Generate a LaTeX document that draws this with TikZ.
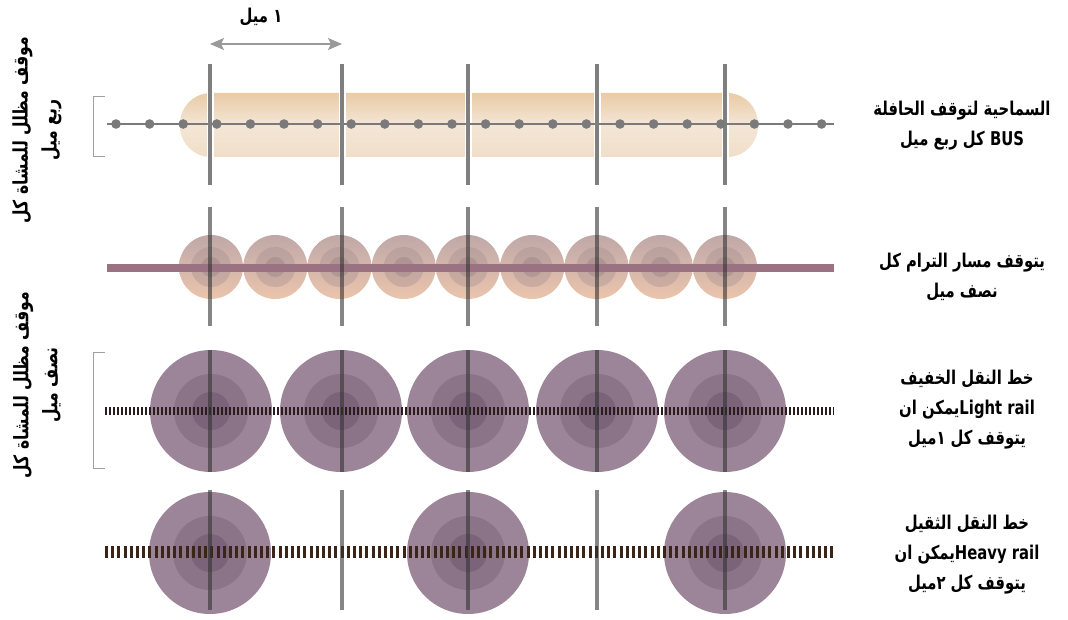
\documentclass[tikz,border=0pt]{standalone}
\usepackage{fontspec}
\newfontfamily\arfont[Script=Arabic,FakeStretch=0.78]{DejaVu Sans}
\TeXXeTstate=1
\usetikzlibrary{arrows.meta}
\definecolor{vline}{HTML}{7F7F7F}
\definecolor{vdark}{HTML}{333333}
\definecolor{dotc}{HTML}{7A7A7A}
\definecolor{tramc}{HTML}{9A7282}
\definecolor{lrc}{HTML}{2B1D1D}
\definecolor{hrc}{HTML}{3B2418}
\definecolor{purout}{HTML}{9C8598}
\definecolor{purmid}{HTML}{8B7488}
\definecolor{purin}{HTML}{7B6479}
\definecolor{tramtop}{HTML}{BFA8A8}
\definecolor{trambot}{HTML}{EBC5AC}
\definecolor{trammid}{HTML}{A08A8E}
\definecolor{tramin}{HTML}{8F7880}
\definecolor{pilltop}{HTML}{E9CBA6}
\definecolor{pillmid}{HTML}{F4E6D6}
\definecolor{pillbot}{HTML}{F0DEC8}
\definecolor{brk}{HTML}{A0A0A0}
\definecolor{arrc}{HTML}{9A9A9A}
\tikzset{
  milestone/.style={draw=vline, line width=4pt},
  milestoneover/.style={draw=vdark, draw opacity=0.6, line width=4pt},
  bracketline/.style={draw=brk, line width=0.8pt},
  rlabel/.style={font=\arfont\bfseries\fontsize{19}{30}\selectfont, align=center, text=black},
  llabel/.style={font=\arfont\bfseries\fontsize{20}{29}\selectfont, align=center, text=black, rotate=90},
}
\begin{document}
\begin{tikzpicture}[x=1pt,y=-1pt]
\useasboundingbox (0,0) rectangle (1068,620);

% ---- mile arrow ----
\coordinate (m0) at (210,44);
\coordinate (m1) at (342,44);
\draw[arrc, line width=1.6pt, {Stealth[length=14pt,width=12pt,inset=3pt]}-{Stealth[length=14pt,width=12pt,inset=3pt]}] (m0) -- (m1);
\node[font=\arfont\bfseries\fontsize{19}{20}\selectfont] (mile) at (261,17) {\beginR ١ ميل\endR};

% ---- row 1 : bus ----
\shade[top color=pilltop, bottom color=pillbot, middle color=pillmid, rounded corners=31pt] (180,93) rectangle (758,157);
\foreach \x in {210,342,468,597,725} {
  \draw[white, line width=7pt] (\x,93) -- (\x,157);
}
\coordinate (b0) at (107,124);
\coordinate (b1) at (834,124);
\draw[dotc, line width=2.5pt] (b0) -- (b1);
\foreach \x in {210,342,468,597,725} {
  \draw[milestone] (\x,64) -- (\x,185);
}
\foreach \i in {0,...,21} {
  \fill[dotc] ({116+33.6*\i},124) circle (4.8);
}
\draw[bracketline] (105,96) -- (93,96) -- (93,156) -- (105,156);

% ---- row 2 : tram ----
\foreach \i in {0,...,8} {
  \pgfmathsetmacro{\cx}{211+64.25*\i}
  \shade[top color=tramtop, bottom color=trambot] (\cx,267) circle (32);
  \fill[trammid, fill opacity=0.35] (\cx,267) circle (20);
  \fill[tramin, fill opacity=0.35] (\cx,267) circle (10);
}
\coordinate (t0) at (107,268);
\coordinate (t1) at (834,268);
\draw[tramc, line width=8pt] (t0) -- (t1);
\foreach \x in {210,342,468,597,725} {
  \draw[milestoneover] (\x,207) -- (\x,326);
}

% ---- row 3 : light rail ----
\foreach \x in {211,341,468,597,725} {
  \fill[purout] (\x,411) circle (61);
  \fill[purmid] (\x,411) circle (37);
  \fill[purin] (\x,411) circle (19);
}
\coordinate (l0) at (105,411);
\coordinate (l1) at (834,411);
\draw[lrc, line width=8pt, dash pattern=on 2pt off 2pt] (l0) -- (l1);
\foreach \x in {210,342,468,597,725} {
  \draw[milestoneover] (\x,350) -- (\x,472);
}
\draw[bracketline] (105,352) -- (93,352) -- (93,468) -- (105,468);

% ---- row 4 : heavy rail ----
\foreach \x in {210,468,725} {
  \fill[purout] (\x,553) circle (61);
  \fill[purmid] (\x,553) circle (37);
  \fill[purin] (\x,553) circle (19);
}
\coordinate (h0) at (105,552);
\coordinate (h1) at (834,552);
\draw[hrc, line width=12pt, dash pattern=on 3pt off 3.2pt] (h0) -- (h1);
\foreach \x in {210,342,468,597,725} {
  \draw[milestoneover] (\x,490) -- (\x,610);
}

% ---- right labels ----
\node[rlabel] (lab1) at (962,126) {\beginR السماحية لتوقف الحافلة\endR\\\beginR\beginL BUS\endL{} كل ربع ميل\endR};
\node[rlabel] (lab2) at (962,277) {\beginR يتوقف مسار الترام كل\endR\\\beginR نصف ميل\endR};
\node[rlabel] (lab3) at (967,410) {\beginR خط النقل الخفيف\endR\\\beginR\beginL Light rail\endL{}يمكن ان\endR\\\beginR يتوقف كل ١ميل\endR};
\node[rlabel] (lab4) at (967,555) {\beginR خط النقل الثقيل\endR\\\beginR\beginL Heavy rail\endL{}يمكن ان\endR\\\beginR يتوقف كل ٢ميل\endR};

% ---- left labels ----
\node[llabel] (side1) at (37,130) {\beginR موقف مظلل للمشاة كل\endR\\\beginR ربع ميل\endR};
\node[llabel] (side2) at (37,385) {\beginR موقف مظلل للمشاة كل\endR\\\beginR نصف ميل\endR};
\end{tikzpicture}
\end{document}
